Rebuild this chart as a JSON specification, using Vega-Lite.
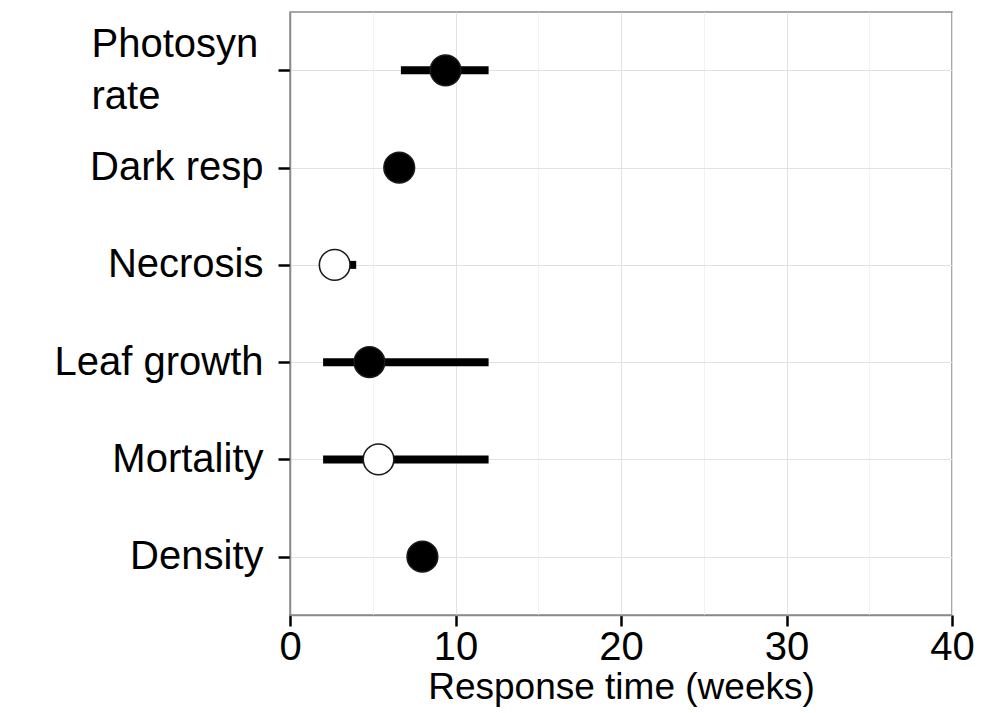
{
  "$schema": "https://vega.github.io/schema/vega-lite/v6.json",
  "autosize": "none",
  "padding": {"left": 290, "top": 12, "right": 45, "bottom": 98},
  "width": 662,
  "height": 603,
  "background": "white",
  "config": {
    "font": "Liberation Sans",
    "view": {"stroke": "#8a8a8a", "strokeWidth": 1.5},
    "axis": {"labelFont": "Liberation Sans", "titleFont": "Liberation Sans", "labelColor": "black", "titleColor": "black"}
  },
  "data": {
    "values": [
      {"trait": "Photosyn rate", "time": 9.4, "lo": 6.7, "hi": 12.0, "style": "filled"},
      {"trait": "Dark resp", "time": 6.6, "lo": null, "hi": null, "style": "filled"},
      {"trait": "Necrosis", "time": 2.7, "lo": 2.7, "hi": 4.0, "style": "open"},
      {"trait": "Leaf growth", "time": 4.8, "lo": 2.0, "hi": 12.0, "style": "filled"},
      {"trait": "Mortality", "time": 5.35, "lo": 2.0, "hi": 12.0, "style": "open"},
      {"trait": "Density", "time": 8.0, "lo": null, "hi": null, "style": "filled"}
    ]
  },
  "encoding": {
    "y": {
      "field": "trait",
      "type": "nominal",
      "sort": ["Photosyn rate", "Dark resp", "Necrosis", "Leaf growth", "Mortality", "Density"],
      "scale": {"type": "point", "padding": 0.6, "domain": ["Photosyn rate", "Dark resp", "Necrosis", "Leaf growth", "Mortality", "Density"]},
      "axis": {
        "title": null,
        "domain": true,
        "domainColor": "#8a8a8a",
        "domainWidth": 1.5,
        "ticks": true,
        "tickColor": "black",
        "tickWidth": 2.5,
        "tickSize": 12,
        "labelFontSize": 40,
        "labelLineHeight": 52,
        "labelExpr": "datum.value == 'Photosyn rate' ? ['Photosyn', 'rate'] : datum.label",
        "labelAlign": {"condition": {"test": "datum.value == 'Photosyn rate'", "value": "left"}, "value": "right"},
        "labelPadding": {"condition": {"test": "datum.value == 'Photosyn rate'", "value": 187}, "value": 15},
        "labelOffset": {"condition": {"test": "datum.value == 'Photosyn rate'", "value": -26}, "value": 0},
        "labelLimit": 0,
        "grid": true,
        "gridColor": "#e2e2e2",
        "gridWidth": 1
      }
    }
  },
  "layer": [
    {
      "transform": [{"filter": "datum.lo != null"}],
      "mark": {"type": "rule", "strokeWidth": 8, "color": "black", "strokeCap": "butt"},
      "encoding": {
        "x": {
          "field": "lo",
          "type": "quantitative",
          "scale": {"domain": [0, 40], "nice": false},
          "axis": {
            "title": "Response time (weeks)",
            "titleFontSize": 37,
            "titleFontWeight": "normal",
            "titlePadding": 2,
            "values": [0, 5, 10, 15, 20, 25, 30, 35, 40],
            "labelExpr": "datum.value % 10 == 0 ? datum.label : ''",
            "labelFontSize": 40,
            "labelPadding": 1,
            "labelFlush": false,
            "labelOverlap": false,
            "domainColor": "#8a8a8a",
            "domainWidth": 1.5,
            "tickColor": "black",
            "tickWidth": 2.5,
            "tickSize": 11,
            "tickOpacity": {"condition": {"test": "datum.value % 10 == 0", "value": 1}, "value": 0},
            "grid": true,
            "gridColor": {"condition": {"test": "datum.value % 10 == 0", "value": "#e2e2e2"}, "value": "#f2f2f2"},
            "gridWidth": 1
          }
        },
        "x2": {"field": "hi"}
      }
    },
    {
      "mark": {"type": "point", "shape": "circle", "filled": true, "size": 940, "stroke": "#1a1a1a", "strokeWidth": 1.6, "opacity": 1},
      "encoding": {
        "x": {"field": "time", "type": "quantitative"},
        "fill": {
          "field": "style",
          "type": "nominal",
          "scale": {"domain": ["filled", "open"], "range": ["black", "white"]},
          "legend": null
        }
      }
    }
  ]
}
